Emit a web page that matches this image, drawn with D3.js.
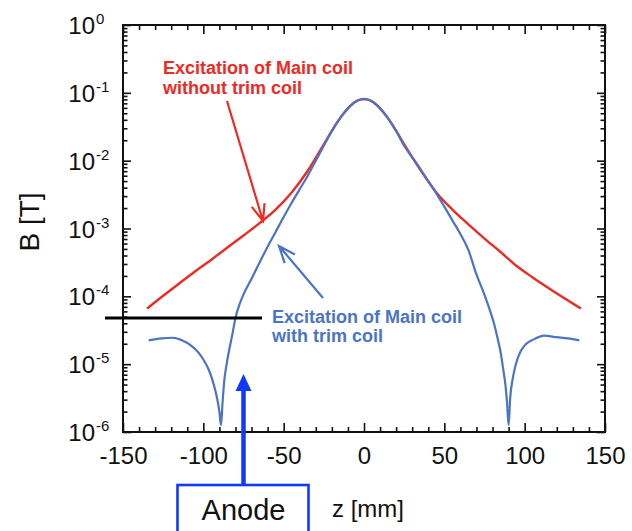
<!DOCTYPE html>
<html>
<head>
<meta charset="utf-8">
<script src="https://cdn.jsdelivr.net/npm/d3@7"></script>
<style>
  body { margin: 0; background: #fff; }
  svg text { font-family: "Liberation Sans", Arial, Helvetica, sans-serif; }
</style>
</head>
<body>
<div id="chart"></div>
<script>
// z positions [mm] and field values [T]
const zRed = [-135, -125, -115, -105, -95, -85, -75, -65, -55, -45, -35, -25, -20, -15, -8, -4, 0,
  4, 8, 15, 20, 25, 35, 45, 55, 65, 75, 85, 95, 105, 115, 125, 135];
const bRed = [6.6e-5, 1.02e-4, 1.55e-4, 2.34e-4, 3.47e-4, 5.25e-4, 7.9e-4, 1.2e-3, 1.9e-3, 3.4e-3, 7.1e-3, 1.74e-2, 2.75e-2, 4.2e-2, 6.6e-2, 7.7e-2, 8.1e-2,
  7.7e-2, 6.6e-2, 4.2e-2, 2.75e-2, 1.74e-2, 7.4e-3, 3.4e-3, 1.9e-3, 1.15e-3, 7.1e-4, 4.5e-4, 2.8e-4, 1.9e-4, 1.32e-4, 9.3e-5, 6.6e-5];

const zBlue = [-134, -126, -119, -113, -108, -103, -99, -96, -93.5, -91.5, -90, -89, -88, -87, -85.5, -84, -82, -80, -77.5, -75,
  -70, -65, -60, -55, -50, -45, -40, -35, -30, -25, -20, -15, -8, -4, 0, 4, 8, 15, 20, 25,
  30, 35, 40, 45, 50, 55, 60, 65, 70, 75, 78, 81, 83, 85, 86.5, 88, 89, 90, 91, 92.5,
  94.5, 97.5, 101, 106, 112, 120, 127, 134];
const bBlue = [2.24e-5, 2.4e-5, 2.45e-5, 2.24e-5, 1.91e-5, 1.48e-5, 1.07e-5, 7.6e-6, 5.0e-6, 3.2e-6, 2.0e-6, 1.26e-6, 2.8e-6, 5.6e-6, 1.0e-5, 1.58e-5, 2.7e-5, 4.8e-5, 7.6e-5, 1.07e-4,
  1.82e-4, 3.16e-4, 5.4e-4, 8.9e-4, 1.48e-3, 2.4e-3, 3.8e-3, 6.0e-3, 1.0e-2, 1.66e-2, 2.75e-2, 4.2e-2, 6.6e-2, 7.7e-2, 8.1e-2, 7.7e-2, 6.6e-2, 4.2e-2, 2.75e-2, 1.66e-2,
  1.12e-2, 7.6e-3, 5.0e-3, 3.3e-3, 2.1e-3, 1.32e-3, 8.3e-4, 4.8e-4, 2.1e-4, 1.05e-4, 6.6e-5, 3.9e-5, 2.5e-5, 1.51e-5, 8.9e-6, 5.0e-6, 2.8e-6, 1.26e-6, 3.2e-6, 6.0e-6,
  1.0e-5, 1.55e-5, 2.0e-5, 2.34e-5, 2.63e-5, 2.5e-5, 2.4e-5, 2.24e-5];

const xTicks = [-150, -100, -50, 0, 50, 100, 150];
const yDecades = [0, -1, -2, -3, -4, -5, -6];
const anodeZ = -75;
const levelB = 4.8e-5;

const width = 632, height = 531;
const margin = { top: 25, right: 27, bottom: 99, left: 123 };
const w = width - margin.left - margin.right;
const h = height - margin.top - margin.bottom;

const svg = d3.select("#chart").append("svg")
  .attr("width", width).attr("height", height)
  .style("background", "#fff");
const g = svg.append("g").attr("transform", `translate(${margin.left},${margin.top})`);

const x = d3.scaleLinear().domain([-150, 150]).range([0, w]);
const y = d3.scaleLog().domain([1e-6, 1]).range([h, 0]);

// minor ticks
const xMinor = d3.range(-140, 150, 10).filter(v => v % 50 !== 0);
const yMinor = [];
for (let k = -6; k < 0; k++) for (let m = 2; m <= 9; m++) yMinor.push(m * Math.pow(10, k));
const yMajor = yDecades.map(d => Math.pow(10, d));

function tickAxis(axis, vals, size) {
  return axis.tickValues(vals).tickSize(size).tickFormat("");
}
const axes = [
  [d3.axisBottom(x), xMinor, -5, `translate(0,${h})`],
  [d3.axisBottom(x), xTicks, -9, `translate(0,${h})`],
  [d3.axisTop(x), xMinor, -5, null],
  [d3.axisTop(x), xTicks, -9, null],
  [d3.axisLeft(y), yMinor, -4.5, null],
  [d3.axisLeft(y), yMajor, -8, null],
  [d3.axisRight(y), yMinor, -4.5, `translate(${w},0)`],
  [d3.axisRight(y), yMajor, -8, `translate(${w},0)`],
];
axes.forEach(([ax, vals, size, tr]) => {
  const a = g.append("g").call(tickAxis(ax, vals, size));
  if (tr) a.attr("transform", tr);
  a.select(".domain").remove();
  a.selectAll("line").attr("stroke", "#111").attr("stroke-width", 1.6);
});

// x tick labels (plain hyphen as in the figure)
const xLab = g.append("g").attr("transform", `translate(0,${h})`)
  .call(d3.axisBottom(x).tickValues(xTicks).tickSize(0).tickPadding(15).tickFormat(d => String(d)));
xLab.select(".domain").remove();
xLab.selectAll("text").attr("font-size", 24).attr("fill", "#111")
  .style("font-family", "'Liberation Sans', Arial, sans-serif");

// y tick labels 10^n
yDecades.forEach(d => {
  const yy = y(Math.pow(10, d));
  g.append("text").attr("x", -28).attr("y", yy + 9)
    .attr("text-anchor", "end").attr("font-size", 24).attr("fill", "#111").text("10");
  g.append("text").attr("x", -27).attr("y", yy - 1)
    .attr("font-size", 15).attr("fill", "#111").text(d === 0 ? "0" : "-" + (-d));
});

// frame
g.append("rect").attr("width", w).attr("height", h)
  .attr("fill", "none").attr("stroke", "#111").attr("stroke-width", 2);

// curves
const red = "#ee2a24", blue = "#4a74c6";
const line = d3.line().x(d => x(d[0])).y(d => y(d[1])).curve(d3.curveMonotoneX);
g.append("path").datum(d3.zip(zRed, bRed)).attr("d", line)
  .attr("fill", "none").attr("stroke", red).attr("stroke-width", 2.4);
g.append("path").datum(d3.zip(zBlue, bBlue)).attr("d", line)
  .attr("fill", "none").attr("stroke", blue).attr("stroke-width", 2.2);

// axis titles
svg.append("text").attr("transform", "translate(39,222) rotate(-90)")
  .attr("text-anchor", "middle").attr("font-size", 28).attr("fill", "#111").text("B [T]");
svg.append("text").attr("x", 368).attr("y", 517)
  .attr("text-anchor", "middle").attr("font-size", 24).attr("fill", "#111").text("z [mm]");

// annotations
function arrow(x1, y1, x2, y2, color) {
  const ang = Math.atan2(y2 - y1, x2 - x1);
  const L = 18, s = 0.38;
  const p = a => [x2 - L * Math.cos(a), y2 - L * Math.sin(a)];
  const [ax, ay] = p(ang - s), [bx, by] = p(ang + s);
  svg.append("path").attr("d", `M${x1},${y1}L${x2},${y2}M${ax},${ay}L${x2},${y2}L${bx},${by}`)
    .attr("fill", "none").attr("stroke", color).attr("stroke-width", 2.2);
}
const rt = svg.append("text").attr("font-size", 18).attr("font-weight", "bold").attr("fill", red);
rt.append("tspan").attr("x", 163).attr("y", 74).text("Excitation of Main coil");
rt.append("tspan").attr("x", 163).attr("y", 94).text("without trim coil");
arrow(227, 101, 263, 221, red);

const bt = svg.append("text").attr("font-size", 18).attr("font-weight", "bold").attr("fill", blue);
bt.append("tspan").attr("x", 272).attr("y", 323).text("Excitation of Main coil");
bt.append("tspan").attr("x", 272).attr("y", 342).text("with trim coil");
arrow(323, 298, 279, 246, blue);

// black level line
svg.append("line")
  .attr("x1", 105).attr("x2", 262)
  .attr("y1", margin.top + y(levelB)).attr("y2", margin.top + y(levelB))
  .attr("stroke", "#000").attr("stroke-width", 3);

// anode marker
const ax0 = margin.left + x(anodeZ);
const anode = "#1238ff";
svg.append("line").attr("x1", ax0).attr("x2", ax0).attr("y1", 388).attr("y2", 485)
  .attr("stroke", anode).attr("stroke-width", 4.5);
svg.append("path").attr("d", `M${ax0},374L${ax0 - 8},391L${ax0 + 8},391Z`).attr("fill", anode);
svg.append("rect").attr("x", ax0 - 66).attr("y", 485).attr("width", 131).attr("height", 60)
  .attr("fill", "#fff").attr("stroke", anode).attr("stroke-width", 2.6);
svg.append("text").attr("x", ax0).attr("y", 520).attr("text-anchor", "middle")
  .attr("font-size", 29).attr("fill", "#111").text("Anode");
</script>
</body>
</html>
